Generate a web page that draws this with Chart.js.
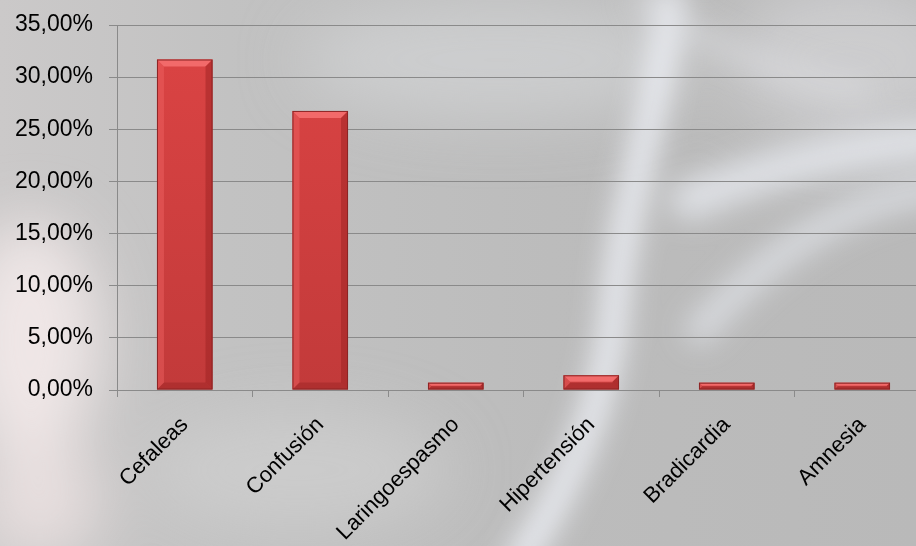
<!DOCTYPE html>
<html>
<head>
<meta charset="utf-8">
<script src="https://cdn.jsdelivr.net/npm/chart.js@4/dist/chart.umd.min.js"></script>
<style>
html,body{margin:0;padding:0;width:916px;height:546px;overflow:hidden;background:#bdbdbd;}
#bg{position:absolute;left:0;top:0;width:916px;height:546px;}
#wrap{position:absolute;left:0;top:0;width:930px;height:546px;}
</style>
</head>
<body>
<svg id="bg" width="916" height="546" xmlns="http://www.w3.org/2000/svg">
  <defs>
    <filter id="b1" x="-50%" y="-50%" width="200%" height="200%"><feGaussianBlur stdDeviation="14"/></filter>
    <filter id="b2" x="-50%" y="-50%" width="200%" height="200%"><feGaussianBlur stdDeviation="30"/></filter>
    <linearGradient id="base" x1="0" y1="0" x2="1" y2="0">
      <stop offset="0" stop-color="#cbc9c9"/>
      <stop offset="0.25" stop-color="#c2c2c2"/>
      <stop offset="0.6" stop-color="#bcbcbc"/>
      <stop offset="1" stop-color="#b9b9b9"/>
    </linearGradient>
  </defs>
  <rect width="916" height="546" fill="url(#base)"/>
  <g filter="url(#b2)">
    <ellipse cx="30" cy="340" rx="70" ry="120" fill="#f3eaea" opacity="0.9"/>
    <ellipse cx="40" cy="500" rx="60" ry="60" fill="#eee4e4" opacity="0.8"/>
    <ellipse cx="500" cy="60" rx="200" ry="60" fill="#d3d4d6" opacity="0.7"/>
    <ellipse cx="850" cy="60" rx="120" ry="80" fill="#d8d9dc" opacity="0.6"/>
    <ellipse cx="300" cy="470" rx="150" ry="60" fill="#d2d2d2" opacity="0.6"/>
  </g>
  <g filter="url(#b1)" fill="none" stroke-linecap="round">
    <path d="M520 560 C580 470 610 380 615 300 C625 200 660 100 670 0" stroke="#eef1f6" stroke-width="28" opacity="0.9"/>
    <path d="M690 200 C760 170 840 150 930 140" stroke="#e6e9ee" stroke-width="40" opacity="0.8"/>
    <path d="M700 330 C780 240 860 200 930 190" stroke="#e3e6eb" stroke-width="30" opacity="0.7"/>
    <path d="M640 0 C700 40 760 70 860 90" stroke="#dfe1e5" stroke-width="22" opacity="0.5"/>
  </g>
</svg>
<div id="wrap"><canvas id="c" width="930" height="546"></canvas></div>
<script>
const categories = ["Cefaleas","Confusión","Laringoespasmo","Hipertensión","Bradicardia","Amnesia"];
const values = [31.69, 26.76, 0.70, 1.41, 0.70, 0.70];
const yTicks = [0,5,10,15,20,25,30,35];

const bevelPlugin = {
  id:'bevel',
  afterDatasetsDraw(chart){
    const ctx = chart.ctx;
    const meta = chart.getDatasetMeta(0);
    meta.data.forEach(bar=>{
      const w = bar.width, l = bar.x - w/2, r = bar.x + w/2, t = bar.y, b = bar.base;
      const h = b - t;
      const d = Math.min(7, h/2.2);
      ctx.save();
      ctx.fillStyle = '#f26a6a';
      ctx.beginPath();
      ctx.moveTo(l,t);ctx.lineTo(r,t);ctx.lineTo(r-d,t+d);ctx.lineTo(l+d,t+d);ctx.closePath();ctx.fill();
      ctx.fillStyle = 'rgba(240,100,100,0.45)';
      ctx.beginPath();
      ctx.moveTo(l,t);ctx.lineTo(l+d,t+d);ctx.lineTo(l+d,b-d);ctx.lineTo(l,b);ctx.closePath();ctx.fill();
      ctx.fillStyle = 'rgba(150,30,30,0.45)';
      ctx.beginPath();
      ctx.moveTo(r,t);ctx.lineTo(r-d,t+d);ctx.lineTo(r-d,b-d);ctx.lineTo(r,b);ctx.closePath();ctx.fill();
      ctx.fillStyle = 'rgba(140,30,30,0.35)';
      ctx.beginPath();
      ctx.moveTo(l,b);ctx.lineTo(l+d,b-d);ctx.lineTo(r-d,b-d);ctx.lineTo(r,b);ctx.closePath();ctx.fill();
      ctx.strokeStyle = '#8c2525';
      ctx.lineWidth = 1;
      ctx.strokeRect(l+0.5,t+0.5,w-1,h-1);
      ctx.restore();
    });
  }
};

const ctx = document.getElementById('c').getContext('2d');
new Chart(ctx,{
  type:'bar',
  data:{
    labels:categories,
    datasets:[{
      data:values,
      backgroundColor:(c)=>{
        const area = c.chart.chartArea;
        if(!area) return '#d84242';
        const g = c.chart.ctx.createLinearGradient(0,area.top,0,area.bottom);
        g.addColorStop(0,'#dc4444');
        g.addColorStop(1,'#c23a3a');
        return g;
      },
      borderWidth:0,
      categoryPercentage:1,
      barPercentage:0.41
    }]
  },
  plugins:[bevelPlugin],
  options:{
    responsive:false,
    animation:false,
    devicePixelRatio:1,
    layout:{padding:{top:25,left:0,right:0,bottom:0}},
    plugins:{legend:{display:false},tooltip:{enabled:false}},
    scales:{
      x:{
        grid:{display:true,drawOnChartArea:false,drawTicks:true,tickLength:7,color:'#8a8a8a',offset:true},
        border:{display:true,color:'#8a8a8a',width:1},
        ticks:{color:'#000',font:{family:'Liberation Sans',size:22},maxRotation:45,minRotation:45,padding:15},
        afterFit(s){s.height=156;s.paddingLeft=0;s.paddingRight=0;}
      },
      y:{
        min:0,max:35,
        afterBuildTicks(s){s.ticks = yTicks.map(v=>({value:v}));},
        grid:{color:'#8a8a8a',lineWidth:1,tickLength:8},
        border:{display:true,color:'#8a8a8a',width:1},
        ticks:{color:'#000',font:{family:'Liberation Sans',size:23},padding:16,
          callback:(v)=>v.toFixed(2).replace('.',',')+'%'},
        afterFit(s){s.width=117;s.paddingTop=0;s.paddingBottom=0;}
      }
    }
  }
});
</script>
</body>
</html>
